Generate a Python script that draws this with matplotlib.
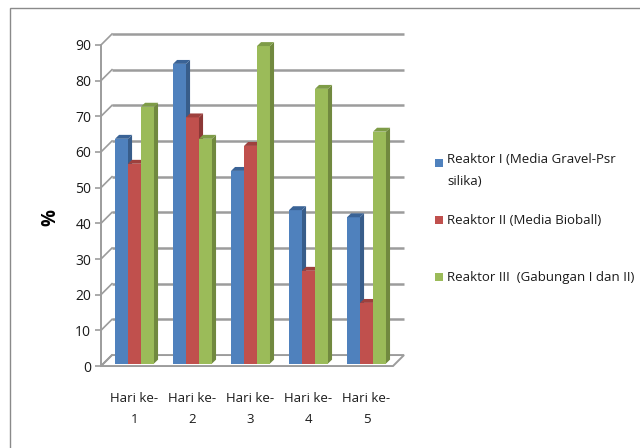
import matplotlib.pyplot as plt
from matplotlib.patches import Polygon, Rectangle

plt.rcParams['font.family'] = ['Open Sans', 'DejaVu Sans']

# data
hari = ["Hari ke-\n1", "Hari ke-\n2", "Hari ke-\n3", "Hari ke-\n4", "Hari ke-\n5"]
reaktor_1 = [63, 84, 54, 43, 41]
reaktor_2 = [56, 69, 61, 26, 17]
reaktor_3 = [72, 63, 89, 77, 65]
seri = ["Reaktor I (Media Gravel-Psr\nsilika)",
        "Reaktor II (Media Bioball)",
        "Reaktor III  (Gabungan I dan II)"]
y_ticks = [0, 10, 20, 30, 40, 50, 60, 70, 80, 90]

warna_depan = ["#4F81BD", "#C0504D", "#9BBB59"]
warna_samping = ["#385D8A", "#8C3836", "#71893F"]
warna_atas = ["#3A6396", "#9E403D", "#7E9C47"]
warna_grid = "#9c9c9c"

# pseudo-3D geometry (data units)
lebar = 0.224          # bar width
dx_dinding, dy_dinding = 0.19, 3.08   # wall depth
dx_bar, dy_bar = 0.07, 1.1            # bar depth
z0 = 0.7               # bar base sits a little behind the front edge
x_kiri, x_kanan = -0.578, 4.457

fig = plt.figure(figsize=(6.4, 4.48), dpi=100)
W, H = 640, 448
px_l, px_r, px_t, px_b = 99.7, 410.0, 30.7, 369.6
ax = fig.add_axes([px_l / W, (H - px_b) / H, (px_r - px_l) / W, (px_b - px_t) / H])
ax.set_xlim(-0.6, 4.75)
ax.set_ylim(-1, 94)

# floor
lantai = Polygon([(x_kiri, 0), (x_kanan, 0), (x_kanan + dx_dinding, dy_dinding),
                  (x_kiri + dx_dinding, dy_dinding)], closed=True,
                 facecolor="white", edgecolor=warna_grid, lw=1.4, zorder=1)
ax.add_patch(lantai)

# back wall gridlines and side-wall diagonals
for v in y_ticks[1:]:
    ax.plot([x_kiri + dx_dinding, x_kanan + dx_dinding], [v + dy_dinding] * 2,
            color=warna_grid, lw=1.8, zorder=1, solid_capstyle='butt')
for v in y_ticks:
    ax.plot([x_kiri, x_kiri + dx_dinding], [v, v + dy_dinding],
            color=warna_grid, lw=1.2, zorder=1)

# bars
semua = [reaktor_1, reaktor_2, reaktor_3]
for i in range(len(hari)):
    for j, nilai in enumerate(semua):
        v = nilai[i]
        x0 = i + (j - 1) * lebar - lebar / 2
        zo = 3 + j
        ax.bar(x0, v, width=lebar, bottom=z0, align='edge',
               color=warna_depan[j], edgecolor='none', zorder=zo)
        atas = z0 + v
        samping = Polygon([(x0 + lebar, z0), (x0 + lebar, atas),
                           (x0 + lebar + dx_bar, atas + dy_bar),
                           (x0 + lebar + dx_bar, z0 + dy_bar)],
                          closed=True, facecolor=warna_samping[j], edgecolor='none', zorder=zo)
        tutup = Polygon([(x0, atas), (x0 + lebar, atas),
                         (x0 + lebar + dx_bar, atas + dy_bar), (x0 + dx_bar, atas + dy_bar)],
                        closed=True, facecolor=warna_atas[j], edgecolor='none', zorder=zo)
        ax.add_patch(samping)
        ax.add_patch(tutup)

# axes
for s in ['top', 'right', 'bottom']:
    ax.spines[s].set_visible(False)
ax.spines['left'].set_position(('data', x_kiri))
ax.spines['left'].set_bounds(0, 90)
ax.spines['left'].set_color(warna_grid)
ax.spines['left'].set_linewidth(1.4)
ax.set_yticks(y_ticks)
ax.tick_params(axis='y', direction='out', length=4, width=1.2, color=warna_grid,
               labelsize=10, pad=3, labelcolor='#1a1a1a')
ax.set_xticks(range(len(hari)))
ax.set_xticklabels(hari, fontsize=9.5, linespacing=1.8, color='#1a1a1a')
ax.tick_params(axis='x', length=0, pad=16)
ax.patch.set_visible(False)

fig.text(50 / W, 1 - 217 / H, "%", rotation=90, fontsize=13.5, fontweight='bold',
         ha='center', va='center')

# legend
leg_y = [163, 220, 277]
for j, label in enumerate(seri):
    fig.patches.append(Rectangle((435 / W, 1 - (leg_y[j] + 4) / H), 8 / W, 8 / H,
                                 transform=fig.transFigure, facecolor=warna_depan[j],
                                 edgecolor='none'))
    if "\n" in label:
        fig.text(447 / W, 1 - (leg_y[j] - 10) / H, label, fontsize=9.5, ha='left', va='top',
                 linespacing=1.85, color='#1a1a1a')
    else:
        fig.text(447 / W, 1 - leg_y[j] / H, label, fontsize=9.5, ha='left', va='center',
                 color='#1a1a1a')

# chart frame
fig.patches.append(Rectangle((10 / W, -0.1), 1.2, 1 - 8 / H + 0.1, transform=fig.transFigure,
                             facecolor='none', edgecolor='#8a8a8a', lw=1.0))

fig.savefig("out.png", dpi=100)
